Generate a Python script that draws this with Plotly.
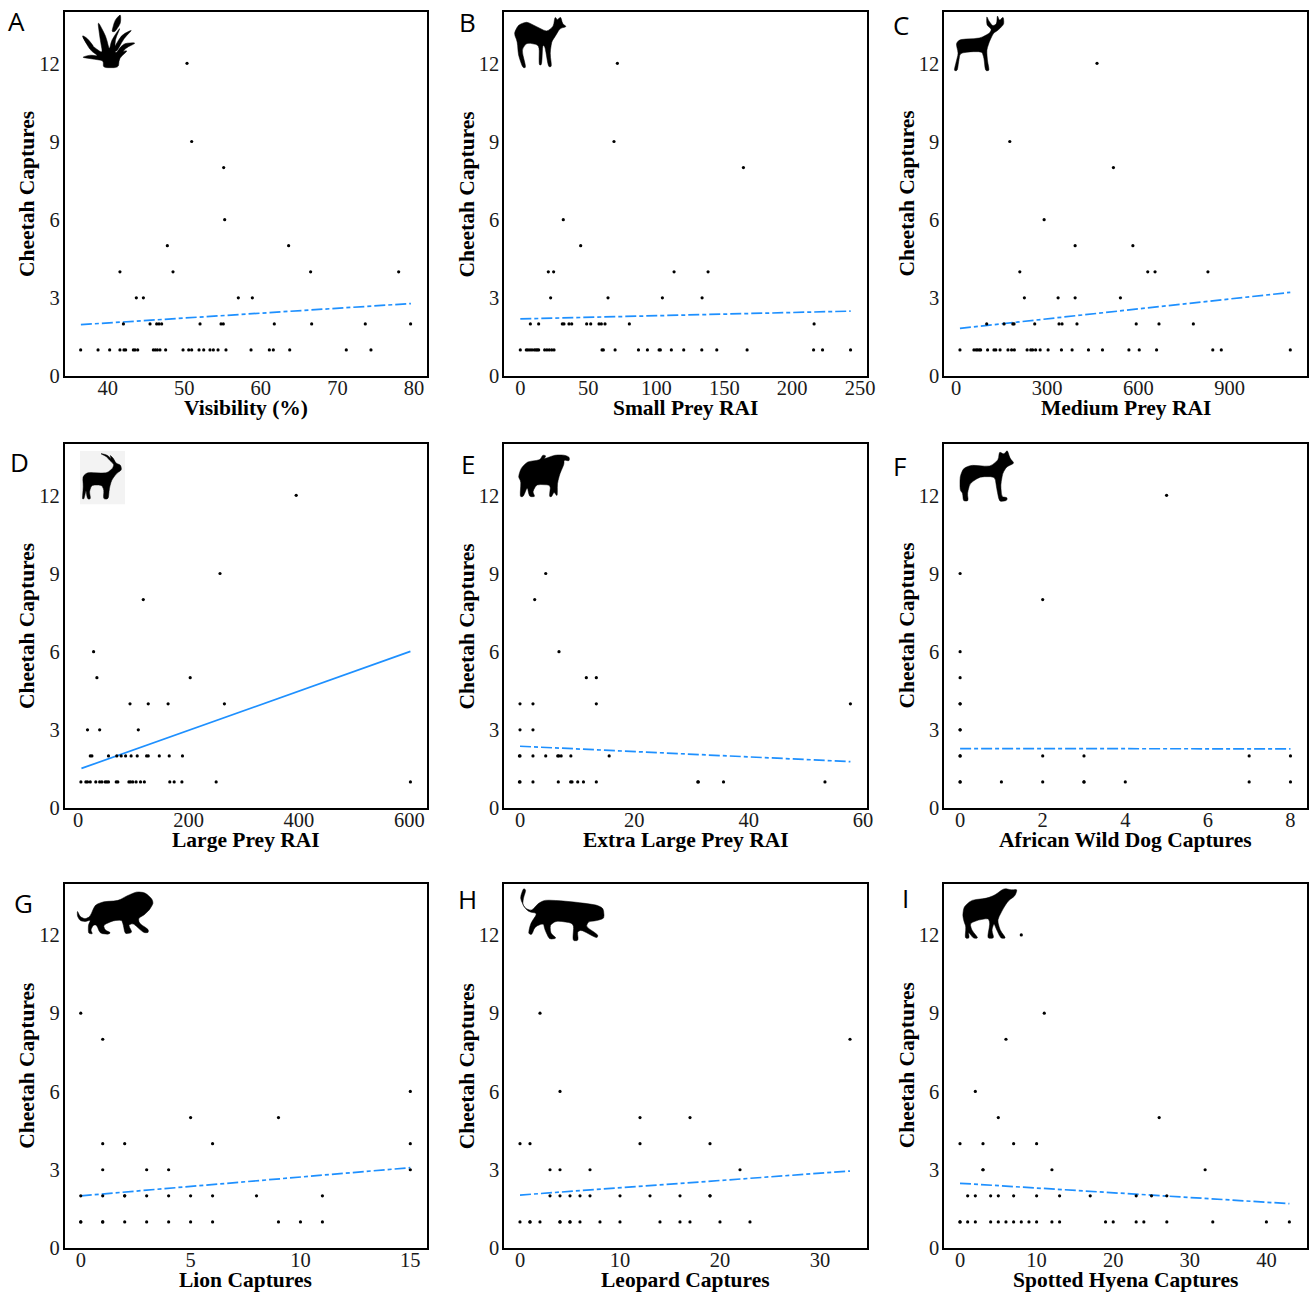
import plotly.graph_objects as go

W, H = 1310, 1294

# ---------- data (cheetah captures against each covariate) ----------
a12=[50.36]; a9=[50.97]; a8=[55.15]; a6=[55.28]; a5=[47.79,63.63]
a4=[41.6,48.53,66.5,78.0]; a3=[43.74,44.66,57.06,58.89]
a2=[42.05,45.53,46.4,46.7,47.05,52.06,54.8,55.1,61.76,66.64,73.64,79.56]
a1=[36.47,38.74,40.26,41.6,42.13,42.35,43.35,43.57,43.92,45.96,46.22,46.49,46.83,47.57,49.84,50.58,50.97,51.93,52.54,53.36,53.8,54.41,55.45,58.72,61.11,61.63,63.77,71.16,74.38]

b12=[71.4]; b9=[68.9]; b8=[164.1]; b6=[31.6]; b5=[44.4]
b4=[20.6,24.5,113.1,138.1]; b3=[22.3,64.5,104.5,133.7]
b2=[7.4,13.5,30.9,32.1,35.8,37.8,48.8,51.8,57.9,59.6,62.3,80.2,216.1]
b1=[0,4.4,5.6,7.1,8.6,10.3,11.5,12.5,13.5,17.9,19.6,21.3,23.1,24.8,60.1,61.1,69.7,86.9,93.5,102.1,103,111.1,120.2,133.5,144.5,166.8,215.7,222.3,242.9]

c12=[464]; c9=[177]; c8=[518]; c6=[290]; c5=[392,582]
c4=[210,631,655,829]; c3=[225,336,392,541]
c2=[101,158,187,191,259,339,349,398,593,668,781]
c1=[13,59,66,71,77,81,104,125,131,145,171,183,192,234,246,252,262,277,303,347,382,436,482,569,603,660,845,873,1100]

d12=[395]; d9=[257]; d8=[118]; d6=[28]; d5=[34,203]
d4=[94,127,163,265]; d3=[17,39,109]
d2=[22,25,55,70,78,86,96,107,124,127,147,165,189]
d1=[5,14,17,22,32,39,43,49,52,55,69,72,92,95,99,105,113,120,166,174,188,250,602]

e9=[4.5]; e8=[2.57]; e6=[6.82]; e5=[11.6,13.35]
e4=[0,2.27,13.35,57.8]; e3=[0,2.27]
e2=[-0.1,0,2.27,4.5,6.6,6.8,7.2,8.9,15.6]
e1=[-0.1,0,2.27,6.7,8.86,9.1,10.1,11.1,13.35,31.1,31.2,35.6,53.35]

f12=[5]; f9=[0]; f8=[2]; f6=[0]; f5=[0]
f4=[0,0]; f3=[0,0]; f2=[0,0,2,3,7,8]
f1=[0,0,1,2,3,3,4,7,8]

g9=[0]; g8=[1]; g6=[15]; g5=[5,9]
g4=[1,2,6,15]; g3=[1,3,4,15]
g2=[0,1,2,2,3,4,5,6,8,11]
g1=[0,0,1,1,2,3,4,5,6,9,10,11]

h9=[2]; h8=[33]; h6=[4]; h5=[12,17]
h4=[0,1,12,19]; h3=[3,4,7,22]
h2=[3,4,5,6,7,10,13,16,19,19]
h1=[0,1,1,2,4,4,5,5,6,8,10,14,16,17,20,23]

i12=[8]; i9=[11]; i8=[6]; i6=[2]; i5=[5,26]
i4=[0,3,7,10]; i3=[3,3,12,32]
i2=[1,2,4,5,7,10,13,17,23,25,27]
i1=[0,0,1,2,4,5,6,7,8,9,10,12,13,19,20,23,24,27,33,40,43]

y_levels=[12,9,8,6,5,4,3,2,1]
series_A=[a12,a9,a8,a6,a5,a4,a3,a2,a1]
series_B=[b12,b9,b8,b6,b5,b4,b3,b2,b1]
series_C=[c12,c9,c8,c6,c5,c4,c3,c2,c1]
series_D=[d12,d9,d8,d6,d5,d4,d3,d2,d1]
series_E=[[],e9,e8,e6,e5,e4,e3,e2,e1]
series_F=[f12,f9,f8,f6,f5,f4,f3,f2,f1]
series_G=[[],g9,g8,g6,g5,g4,g3,g2,g1]
series_H=[[],h9,h8,h6,h5,h4,h3,h2,h1]
series_I=[i12,i9,i8,i6,i5,i4,i3,i2,i1]

fit_x={"A":[36.5,79.6],"B":[0,243],"C":[13,1100],"D":[6,602],"E":[0,57.8],"F":[0,8],"G":[0,15],"H":[0,33],"I":[0,43]}
fit_y={"A":[1.97,2.78],"B":[2.19,2.49],"C":[1.83,3.21],"D":[1.52,6.01],"E":[2.37,1.78],"F":[2.28,2.27],"G":[2.0,3.08],"H":[2.03,2.95],"I":[2.48,1.70]}

x_titles=["Visibility (%)","Small Prey RAI","Medium Prey RAI","Large Prey RAI","Extra Large Prey RAI","African Wild Dog Captures","Lion Captures","Leopard Captures","Spotted Hyena Captures"]
y_title="Cheetah Captures"
letters=["A","B","C","D","E","F","G","H","I"]
x_ticks=[[40,50,60,70,80],[0,50,100,150,200,250],[0,300,600,900],[0,200,400,600],[0,20,40,60],[0,2,4,6,8],[0,5,10,15],[0,10,20,30],[0,10,20,30,40]]
x_ranges=[[34.36,81.7],[-12,255],[-39.5,1155],[-24.7,632],[-2.8,60.7],[-0.39,8.4],[-0.74,15.76],[-1.6,34.7],[-2.09,45.3]]
y_ticks=[0,3,6,9,12]
all_series=[series_A,series_B,series_C,series_D,series_E,series_F,series_G,series_H,series_I]

# ---------- layout in pixels ----------
col_px=[(64.5,427),(504,867),(944,1307)]
row_px=[(12,376),(444,808),(883.5,1248)]
letter_px=[(16.5,21),(467,22),(900.5,25),(19,462),(467.5,464),(899.5,466),(23,903),(467,899),(905.5,898)]
xtitle_gap=32
ytitle_gap=37.5

# silhouettes: polygons traced at 3x from panel-corner crops
crop_origin=[(0,0),(440,0),(880,0),(0,435),(440,435),(880,435),(0,870),(440,870),(880,870)]
icon_A=[
 [(310,203),(355,203),(358,175),(385,150),(345,162),(345,120),(362,80),(335,120),(328,150),(318,110),(293,62),(300,115),(308,160),(280,140),(245,105),(270,150),(295,168),(270,165),(245,172),(285,178),(310,182)],
 [(340,170),(370,130),(410,128),(375,145),(358,175)],
 [(338,150),(365,105),(398,88),(372,115),(350,155)],
 [(335,95),(345,60),(362,42),(362,70),(345,95)],
 [(245,105),(262,115),(282,140),(262,135)],
]
icon_B=[[(222,100),(235,75),(260,65),(290,80),(320,95),(340,80),(345,50),(352,60),(362,50),(368,72),(380,80),(360,85),(345,110),(335,125),(330,160),(335,200),(325,200),(315,140),(308,135),(305,195),(297,195),(298,135),(260,128),(245,150),(258,203),(248,203),(235,165),(232,125)]]
icon_C=[[(222,212),(230,180),(235,160),(228,130),(240,118),(300,115),(328,100),(335,88),(320,75),(320,48),(326,62),(338,78),(350,72),(352,45),(358,62),(370,50),(372,72),(360,85),(352,92),(340,100),(328,125),(320,150),(322,180),(328,212),(316,212),(312,175),(306,155),(270,155),(240,160),(236,185),(232,212)]]
icon_D=[[(247,192),(250,155),(248,125),(262,112),(320,115),(338,100),(342,88),(328,75),(320,65),(300,55),(322,60),(334,72),(330,60),(340,70),(348,85),(362,90),(365,105),(350,115),(335,135),(328,160),(325,192),(310,192),(312,165),(305,150),(275,150),(268,170),(272,192),(262,192),(258,165),(252,192)]]
icon_E=[[(235,125),(243,100),(262,80),(300,75),(308,60),(318,62),(312,72),(345,60),(372,60),(388,66),(388,78),(372,75),(372,88),(360,115),(352,145),(352,185),(342,170),(335,185),(328,185),(332,150),(290,148),(278,170),(285,185),(268,185),(262,155),(250,185),(240,185),(243,140)]]
icon_F=[[(240,165),(240,125),(250,100),(275,90),(330,95),(355,75),(358,50),(372,58),(382,45),(390,70),(403,85),(380,95),(368,115),(362,150),(365,185),(382,188),(380,197),(358,200),(350,160),(345,125),(300,125),(270,145),(262,175),(265,198),(250,198),(248,175)]]
icon_G=[[(232,122),(240,140),(255,147),(270,140),(285,105),(310,95),(355,92),(380,78),(410,65),(435,68),(455,85),(460,100),(448,120),(432,135),(415,145),(418,160),(445,178),(445,188),(430,188),(400,160),(385,165),(397,188),(375,192),(370,165),(365,150),(340,152),(310,165),(315,180),(332,188),(325,193),(300,190),(290,165),(280,165),(272,180),(278,192),(265,190),(265,165),(272,150),(255,155),(240,152),(232,138)]]
icon_H=[[(250,55),(240,85),(255,115),(275,122),(295,100),(315,90),(360,92),(420,98),(470,105),(490,115),(493,145),(470,152),(445,155),(438,170),(475,195),(470,205),(425,180),(412,185),(415,212),(398,212),(402,160),(350,152),(330,165),(332,190),(350,205),(328,208),(315,180),(310,160),(285,170),(275,195),(265,190),(272,160),(292,130),(265,125),(248,105),(250,85),(258,60)]]
icon_I=[[(248,135),(252,110),(275,90),(320,85),(345,75),(372,55),(395,60),(412,58),(405,78),(385,92),(370,115),(352,150),(360,180),(378,205),(362,205),(348,175),(342,160),(335,180),(342,205),(322,205),(330,160),(325,145),(295,150),(270,160),(275,180),(295,205),(280,205),(265,185),(268,205),(255,205),(258,170),(252,155)]]
icons=[icon_A,icon_B,icon_C,icon_D,icon_E,icon_F,icon_G,icon_H,icon_I]

BLUE="#1E90FF"
SERIF="Liberation Serif"
fig=go.Figure()
axes={}
shapes=[]
annotations=[]

def to_paper(ox,oy,zx,zy):
    return (ox+zx/3)/W, 1-(oy+zy/3)/H

def smooth_path(pts,t=0.3):
    m=len(pts)
    segs=[]
    for j in range(m):
        p=pts[j]; a=pts[j-1]; b=pts[(j+1)%m]
        s=(p[0]+t*(a[0]-p[0]),p[1]+t*(a[1]-p[1]))
        e=(p[0]+t*(b[0]-p[0]),p[1]+t*(b[1]-p[1]))
        segs.append((("L" if j else "M")+f" {s[0]:.5f} {s[1]:.5f} Q {p[0]:.5f} {p[1]:.5f} {e[0]:.5f} {e[1]:.5f}"))
    return " ".join(segs)+" Z"

for n in range(9):
    r,c=divmod(n,3)
    sfx="" if n==0 else str(n+1)
    (x0,x1),(y0,y1)=col_px[c],row_px[r]
    xs,ys=[],[]
    for lvl,vals in zip(y_levels,all_series[n]):
        xs+=vals; ys+=[lvl]*len(vals)
    key=letters[n]
    fig.add_trace(go.Scatter(x=fit_x[key],y=fit_y[key],mode="lines",xaxis="x"+sfx,yaxis="y"+sfx,
        line=dict(color=BLUE,width=1.7,dash="solid" if key=="D" else "11px,3px,4px,3px"),showlegend=False))
    fig.add_trace(go.Scatter(x=xs,y=ys,mode="markers",xaxis="x"+sfx,yaxis="y"+sfx,
        marker=dict(color="black",size=3.2,line=dict(width=0)),showlegend=False))
    common=dict(showgrid=False,zeroline=False,showline=True,mirror=True,linecolor="black",linewidth=1.5,
                ticks="",ticklen=0,tickfont=dict(family=SERIF,size=20.5,color="#1a1a1a"))
    axes["xaxis"+sfx]=dict(common,domain=[x0/W,x1/W],anchor="y"+sfx,range=x_ranges[n],
        tickmode="array",tickvals=x_ticks[n],ticktext=[str(v) for v in x_ticks[n]],ticklabelstandoff=-7)
    axes["yaxis"+sfx]=dict(common,domain=[1-y1/H,1-y0/H],anchor="x"+sfx,range=[0,13.97],
        tickmode="array",tickvals=y_ticks,ticktext=[str(v) for v in y_ticks],ticklabelstandoff=-1)
    annotations.append(dict(text="<b>"+x_titles[n]+"</b>",x=(x0+x1)/2/W,y=1-(y1+xtitle_gap)/H,xref="paper",yref="paper",
        showarrow=False,xanchor="center",yanchor="middle",font=dict(family=SERIF,size=21.5,color="black")))
    annotations.append(dict(text="<b>"+y_title+"</b>",x=(x0-ytitle_gap)/W,y=1-(y0+y1)/2/H,xref="paper",yref="paper",textangle=-90,
        showarrow=False,xanchor="center",yanchor="middle",font=dict(family=SERIF,size=21.5,color="black")))
    lx,ly=letter_px[n]
    annotations.append(dict(text=letters[n],x=lx/W,y=1-ly/H,xref="paper",yref="paper",showarrow=False,
        xanchor="center",yanchor="middle",font=dict(family="Open Sans",size=26,color="black")))
    ox,oy=crop_origin[n]
    if key=="D":
        p0=to_paper(ox,oy,240,48); p1=to_paper(ox,oy,375,208)
        shapes.append(dict(type="rect",xref="paper",yref="paper",x0=p0[0],y0=p0[1],x1=p1[0],y1=p1[1],
                           fillcolor="#f3f3f3",line=dict(width=0),layer="above"))
    for poly in icons[n]:
        pts=[to_paper(ox,oy,zx,zy) for zx,zy in poly]
        shapes.append(dict(type="path",path=smooth_path(pts),xref="paper",yref="paper",fillcolor="black",
                           line=dict(color="black",width=0.5),layer="above"))

fig.update_layout(width=W,height=H,margin=dict(l=0,r=0,t=0,b=0,autoexpand=False),
    paper_bgcolor="white",plot_bgcolor="white",showlegend=False,shapes=shapes,annotations=annotations,**axes)
fig.write_html("out.html",config={"displayModeBar":False},post_script="document.body.style.margin='0';document.documentElement.style.overflow='hidden';")
